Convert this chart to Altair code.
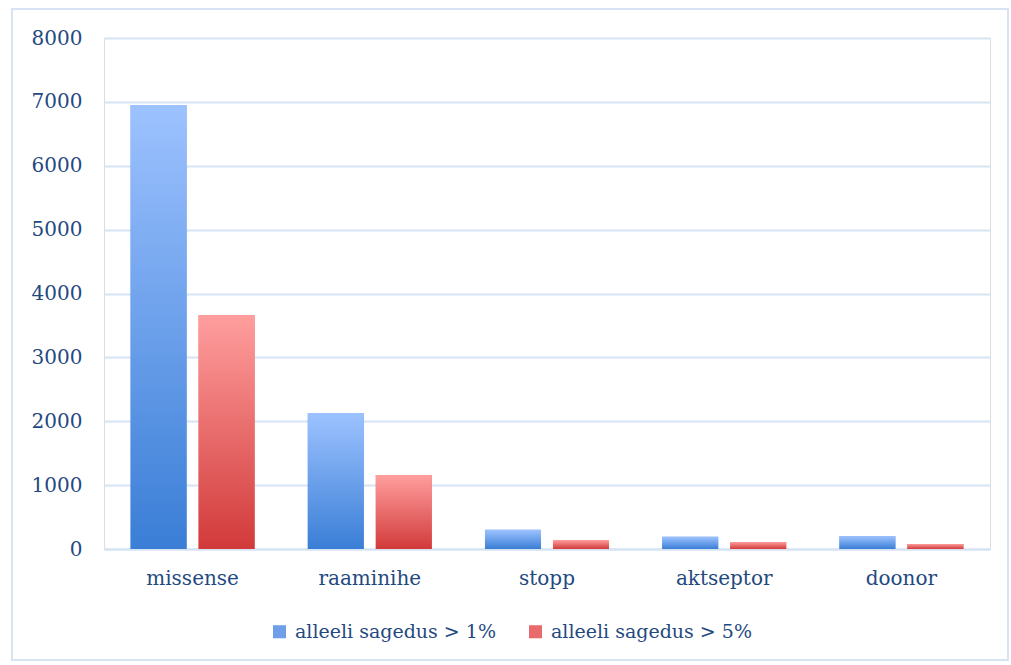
import altair as alt
import pandas as pd

categories = ["missense", "raaminihe", "stopp", "aktseptor", "doonor"]
series_names = ["alleeli sagedus > 1%", "alleeli sagedus > 5%"]
values_1pct = [6950, 2130, 300, 190, 200]
values_5pct = [3660, 1160, 140, 110, 80]
y_ticks = [0, 1000, 2000, 3000, 4000, 5000, 6000, 7000, 8000]

rows = []
for c, v in zip(categories, values_1pct):
    rows.append({"kategooria": c, "seeria": series_names[0], "arv": v})
for c, v in zip(categories, values_5pct):
    rows.append({"kategooria": c, "seeria": series_names[1], "arv": v})
df = pd.DataFrame(rows)

FONT = "DejaVu Serif"
TEXT = "#1F4A80"
GRID = "#D6E3F3"

x_enc = alt.X("kategooria:N", sort=categories, title=None,
              scale=alt.Scale(paddingInner=0.3, paddingOuter=0.15),
              axis=alt.Axis(labelAngle=0, ticks=False, domain=True, domainColor=GRID,
                            domainWidth=2, labelPadding=19, labelFontSize=20,
                            labelFont=FONT, labelColor=TEXT, grid=False))
xo_enc = alt.XOffset("seeria:N", sort=series_names,
                     scale=alt.Scale(paddingInner=0.176, paddingOuter=0))
y_enc = alt.Y("arv:Q", title=None,
              scale=alt.Scale(domain=[0, 8000], nice=False),
              axis=alt.Axis(values=y_ticks, format="d", ticks=False, domain=False, grid=True,
                            gridColor=GRID, gridWidth=2, labelPadding=22,
                            labelFontSize=20, labelFont=FONT, labelColor=TEXT))

base = alt.Chart(df)

legend_layer = base.mark_bar().encode(
    x=x_enc, xOffset=xo_enc, y=y_enc,
    color=alt.Color("seeria:N", sort=series_names, title=None,
                    scale=alt.Scale(domain=series_names, range=["#6E9FE8", "#E86A6A"]),
                    legend=alt.Legend(orient="none", legendX=166, legendY=584,
                                      direction="horizontal", symbolType="square",
                                      symbolSize=170, symbolStrokeWidth=0,
                                      labelFont=FONT, labelFontSize=19, labelColor=TEXT,
                                      columnPadding=30, labelOffset=6, labelLimit=400))
)

def grad(top, bottom):
    return alt.Gradient(gradient="linear",
                        stops=[alt.GradientStop(color=top, offset=0),
                               alt.GradientStop(color=bottom, offset=1)],
                        x1=0, x2=0, y1=0, y2=1)

blue_layer = base.transform_filter(alt.datum.seeria == series_names[0]).mark_bar(
    fill=grad("#9DC2FF", "#3A7ED6")).encode(x=x_enc, xOffset=xo_enc, y=y_enc)
red_layer = base.transform_filter(alt.datum.seeria == series_names[1]).mark_bar(
    fill=grad("#FF9E9E", "#D23A3A")).encode(x=x_enc, xOffset=xo_enc, y=y_enc)

frame = alt.Chart(pd.DataFrame({"a": [0]})).mark_rect(
    fill=None, stroke=GRID, strokeWidth=2).encode(
    x=alt.value(-92), x2=alt.value(904), y=alt.value(-29), y2=alt.value(622))

chart = alt.layer(frame, legend_layer, blue_layer, red_layer).properties(
    width=886, height=511,
    autosize=alt.AutoSizeParams(type="none"),
    padding={"left": 104, "top": 38, "right": 21, "bottom": 116},
).configure_view(stroke=None).configure(background="white")

chart.save("out.html", embed_options={"renderer": "svg", "actions": False})
